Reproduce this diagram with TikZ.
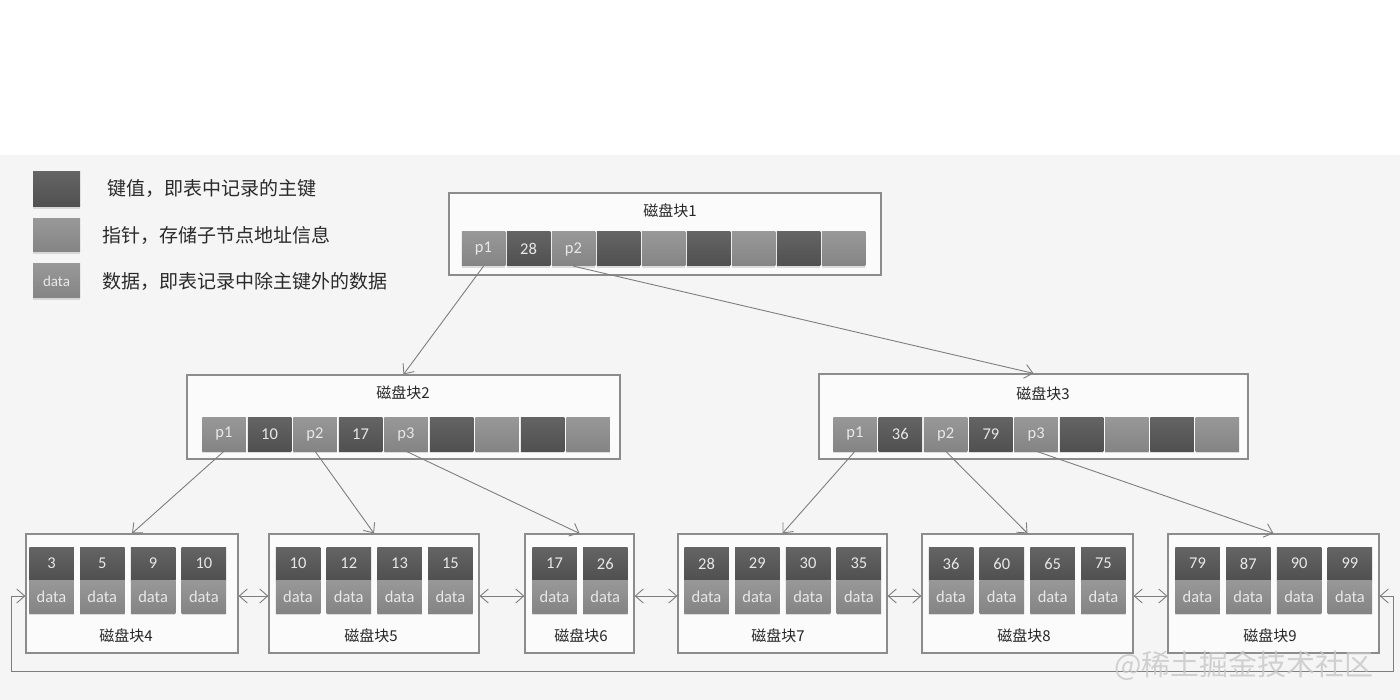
\documentclass[tikz,border=0pt]{standalone}
\usepackage{fontspec}
\setmainfont{Carlito}
\newfontfamily\cjk{Noto Sans CJK SC}
\usetikzlibrary{arrows.meta,shadows}
\definecolor{keytop}{HTML}{646464}
\definecolor{keybot}{HTML}{505050}
\definecolor{ptrtop}{HTML}{989898}
\definecolor{ptrbot}{HTML}{848484}
\definecolor{celltext}{HTML}{E8E8E8}
\definecolor{boxline}{HTML}{8C8C8C}
\definecolor{arrline}{HTML}{7E7E7E}
\definecolor{bg}{HTML}{F5F5F5}
\definecolor{legtext}{HTML}{2A2A2A}
\begin{document}
\begin{tikzpicture}[x=1pt,y=-1pt,
  cellbase/.style={rectangle, inner sep=0pt, minimum width=43.5pt, minimum height=34pt,
    text=celltext, font=\fontsize{16.5}{17}\selectfont,
    drop shadow={shadow xshift=0pt,shadow yshift=-2pt,opacity=0.25}},
  keycell/.style={cellbase, top color=keytop, bottom color=keybot},
  ptrcell/.style={cellbase, top color=ptrtop, bottom color=ptrbot},
  datacell/.style={ptrcell},
  blk/.style={rectangle, draw=boxline, line width=1.2pt, fill=white!60!bg, inner sep=0pt},
  blklabel/.style={font=\cjk\fontsize{15}{16}\selectfont, text=black!85},
  legtxt/.style={anchor=west, font=\cjk\fontsize{19}{20}\selectfont, text=legtext},
  arr/.style={draw=arrline, line width=0.9pt, -{Straight Barb[length=8pt,width=14pt]}},
  darr/.style={draw=arrline, line width=0.9pt, {Straight Barb[length=8pt,width=14pt]}-{Straight Barb[length=8pt,width=14pt]}}
]
\useasboundingbox (0,0) rectangle (1400,700);
\fill[white] (0,0) rectangle (1400,700);
\fill[bg] (0,155) rectangle (1400,700);

% legend
\node[keycell, minimum width=47pt, minimum height=35pt] (lk) at (56.5,189.5) {};
\node[ptrcell, minimum width=47pt, minimum height=33pt] (lp) at (56.5,235.5) {};
\node[datacell, minimum width=47pt, minimum height=34pt, font=\fontsize{15}{15}\selectfont] (ld) at (56.5,281) {data};
\node[legtxt] (lkt) at (104,189) {键值，即表中记录的主键};
\node[legtxt] (lpt) at (99,235) {指针，存储子节点地址信息};
\node[legtxt] (ldt) at (99,281) {数据，即表记录中除主键外的数据};

% root block
\node[blk, minimum width=432pt, minimum height=82pt] (b1) at (665,234) {};
\node[blklabel] (b1l) at (670,211) {磁盘块1};
\foreach \i/\t/\s in {0/p1/ptrcell,1/28/keycell,2/p2/ptrcell,3//keycell,4//ptrcell,5//keycell,6//ptrcell,7//keycell,8//ptrcell}
  \node[\s] (r\i) at ({483.5+45*\i},249) {\t};

% block 2
\node[blk, minimum width=433pt, minimum height=84pt] (b2) at (403.5,417) {};
\node[blklabel] (b2l) at (403,393) {磁盘块2};
\foreach \i/\t/\s in {0/p1/ptrcell,1/10/keycell,2/p2/ptrcell,3/17/keycell,4/p3/ptrcell,5//keycell,6//ptrcell,7//keycell,8//ptrcell}
  \node[\s] (s\i) at ({224+45.5*\i},434) {\t};

% block 3
\node[blk, minimum width=429pt, minimum height=85pt] (b3) at (1033.5,416.5) {};
\node[blklabel] (b3l) at (1043,394) {磁盘块3};
\foreach \i/\t/\s in {0/p1/ptrcell,1/36/keycell,2/p2/ptrcell,3/79/keycell,4/p3/ptrcell,5//keycell,6//ptrcell,7//keycell,8//ptrcell}
  \node[\s] (t\i) at ({855+45.3*\i},434) {\t};

% leaf blocks
\foreach \b/\bx/\bw/\cx/\lx/\keys in {
  4/132/212/51.5/126/{3,5,9,10},
  5/374/210/298/371/{10,12,13,15},
  6/579.5/109/554.5/581/{17,26},
  7/782.5/209/706.5/778/{28,29,30,35},
  8/1027.5/211/951/1024/{36,60,65,75},
  9/1273.5/211/1197.5/1270/{79,87,90,99}}{
  \node[blk, minimum width=\bw pt, minimum height=119pt] (b\b) at (\bx,593.5) {};
  \node[blklabel] (b\b l) at (\lx,636) {磁盘块\b};
  \foreach \k [count=\j from 0] in \keys {
    \node[keycell, minimum width=44.5pt, minimum height=33pt] (k\b-\j) at ({\cx+50.8*\j},563.5) {\k};
    \node[datacell, minimum width=44.5pt, minimum height=33pt] (d\b-\j) at ({\cx+50.8*\j},596.5) {data};
  }
}

% tree pointers
\draw[arr] (r0.south) -- (b2.north);
\draw[arr] (r2.south) -- (b3.north);
\draw[arr] (s0.south) -- (b4.north);
\draw[arr] (s2.south) -- (b5.north);
\draw[arr] (s4.south) -- (b6.north);
\draw[arr] (t0.south) -- (b7.north);
\draw[arr] (t2.south) -- (b8.north);
\draw[arr] (t4.south) -- (b9.north);

% leaf links
\draw[darr] ([yshift=-2.5pt]b4.east) -- ([yshift=-2.5pt]b5.west);
\draw[darr] ([yshift=-2.5pt]b5.east) -- ([yshift=-2.5pt]b6.west);
\draw[darr] ([yshift=-2.5pt]b6.east) -- ([yshift=-2.5pt]b7.west);
\draw[darr] ([yshift=-2.5pt]b7.east) -- ([yshift=-2.5pt]b8.west);
\draw[darr] ([yshift=-2.5pt]b8.east) -- ([yshift=-2.5pt]b9.west);
\coordinate (lw) at (11,671);
\coordinate (rw) at (1393,671);
\draw[darr] ([yshift=-2.5pt]b4.west) -| (lw) -- (rw) |- ([yshift=-2.5pt]b9.east);

% watermark
\node[font=\cjk\fontsize{29}{30}\selectfont, text=black!22, opacity=0.8] (wm) at (1244,666) {@稀土掘金技术社区};
\end{tikzpicture}
\end{document}
